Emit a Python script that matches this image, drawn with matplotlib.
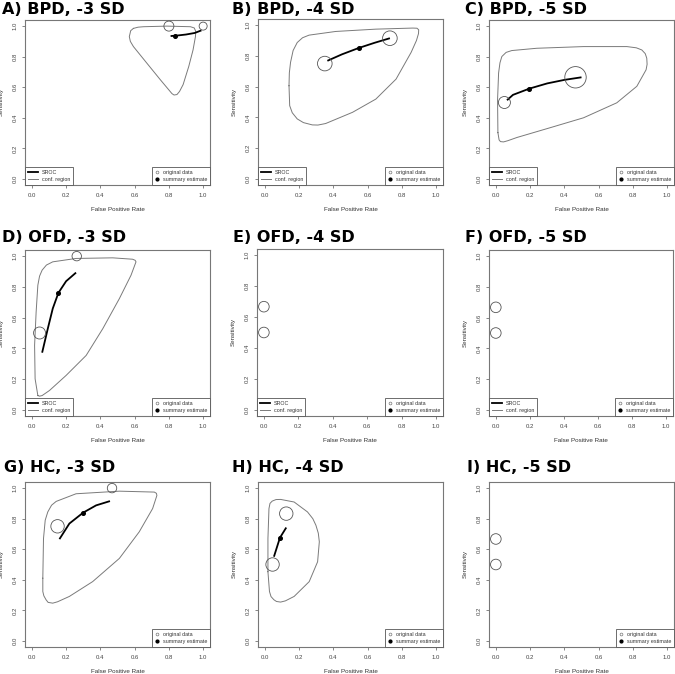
import matplotlib
matplotlib.use("Agg")
import matplotlib.pyplot as plt
from matplotlib.lines import Line2D

titles = ["A) BPD, -3 SD", "B) BPD, -4 SD", "C) BPD, -5 SD",
          "D) OFD, -3 SD", "E) OFD, -4 SD", "F) OFD, -5 SD",
          "G) HC, -3 SD", "H) HC, -4 SD", "I) HC, -5 SD"]

# ---- A) BPD -3 SD
a_fpr = [0.80, 1.00]
a_sens = [1.00, 1.00]
a_weight = [5.0, 4.0]
a_sum = (0.838, 0.937)
a_sroc_x = [0.81, 0.838, 0.90, 0.95, 0.99]
a_sroc_y = [0.935, 0.937, 0.945, 0.955, 0.972]
a_conf_x = [0.593, 0.620, 0.652, 0.789, 0.926, 0.948, 0.957, 0.955, 0.941, 0.916,
            0.883, 0.862, 0.847, 0.830, 0.818, 0.750, 0.671, 0.593, 0.575, 0.569,
            0.577]
a_conf_y = [0.985, 0.993, 0.996, 1.000, 0.996, 0.988, 0.965, 0.931, 0.844, 0.736,
            0.617, 0.572, 0.552, 0.549, 0.558, 0.649, 0.758, 0.866, 0.900, 0.931,
            0.970]

# ---- B) BPD -4 SD
b_fpr = [0.35, 0.73]
b_sens = [0.75, 0.915]
b_weight = [7.3, 7.3]
b_sum = (0.547, 0.851)
b_sroc_x = [0.365, 0.45, 0.547, 0.64, 0.73]
b_sroc_y = [0.768, 0.81, 0.851, 0.885, 0.915]
b_conf_x = [0.141, 0.143, 0.150, 0.165, 0.189, 0.220, 0.258, 0.414, 0.648, 0.863,
            0.888, 0.898, 0.897, 0.885, 0.854, 0.766, 0.648, 0.512, 0.355, 0.310,
            0.277, 0.225, 0.189, 0.160, 0.145]
b_conf_y = [0.606, 0.690, 0.758, 0.835, 0.887, 0.918, 0.935, 0.959, 0.974, 0.981,
            0.980, 0.970, 0.945, 0.900, 0.823, 0.649, 0.519, 0.433, 0.360, 0.350,
            0.351, 0.366, 0.390, 0.430, 0.476]

# ---- C) BPD -5 SD
c_fpr = [0.05, 0.465]
c_sens = [0.50, 0.665]
c_weight = [6.0, 10.7]
c_sum = (0.196, 0.591)
c_sroc_x = [0.065, 0.10, 0.196, 0.30, 0.40, 0.50]
c_sroc_y = [0.515, 0.55, 0.591, 0.625, 0.648, 0.665]
c_conf_x = [0.012, 0.010, 0.016, 0.024, 0.035, 0.060, 0.093, 0.239, 0.512, 0.765,
            0.820, 0.852, 0.872, 0.881, 0.883, 0.877, 0.823, 0.706, 0.512, 0.317,
            0.123, 0.070, 0.045, 0.027, 0.019]
c_conf_y = [0.303, 0.519, 0.693, 0.760, 0.801, 0.828, 0.840, 0.855, 0.866, 0.866,
            0.858, 0.844, 0.820, 0.790, 0.750, 0.714, 0.606, 0.498, 0.400, 0.335,
            0.271, 0.250, 0.242, 0.244, 0.255]

# ---- D) OFD -3 SD
d_fpr = [0.262, 0.045]
d_sens = [1.00, 0.50]
d_weight = [4.7, 6.0]
d_sum = (0.155, 0.761)
d_sroc_x = [0.060, 0.093, 0.122, 0.155, 0.20, 0.258]
d_sroc_y = [0.372, 0.528, 0.659, 0.761, 0.837, 0.893]
d_conf_x = [0.035, 0.019, 0.016, 0.025, 0.035, 0.045, 0.060, 0.085, 0.122, 0.258,
            0.472, 0.588, 0.603, 0.608, 0.579, 0.511, 0.414, 0.317, 0.200, 0.103,
            0.060, 0.045]
d_conf_y = [0.093, 0.202, 0.420, 0.637, 0.811, 0.870, 0.909, 0.942, 0.963, 0.985,
            0.989, 0.980, 0.973, 0.963, 0.876, 0.724, 0.528, 0.354, 0.224, 0.126,
            0.093, 0.089]

# ---- E) OFD -4 SD
e_fpr = [0.0, 0.0]
e_sens = [0.667, 0.50]
e_weight = [5.3, 5.3]

# ---- F) OFD -5 SD
f_fpr = [0.0, 0.0]
f_sens = [0.667, 0.50]
f_weight = [5.3, 5.3]

# ---- G) HC -3 SD
g_fpr = [0.468, 0.15]
g_sens = [1.00, 0.75]
g_weight = [4.7, 6.7]
g_sum = (0.299, 0.839)
g_sroc_x = [0.161, 0.219, 0.299, 0.375, 0.456]
g_sroc_y = [0.666, 0.768, 0.839, 0.887, 0.915]
g_conf_x = [0.064, 0.068, 0.078, 0.093, 0.115, 0.142, 0.258, 0.511, 0.715, 0.727,
            0.730, 0.705, 0.627, 0.511, 0.355, 0.219, 0.150, 0.122, 0.095, 0.083,
            0.070, 0.064]
g_conf_y = [0.410, 0.670, 0.790, 0.844, 0.888, 0.913, 0.963, 0.980, 0.974, 0.966,
            0.952, 0.866, 0.714, 0.540, 0.388, 0.291, 0.256, 0.247, 0.252, 0.269,
            0.295, 0.323]

# ---- H) HC -4 SD
h_fpr = [0.125, 0.045]
h_sens = [0.833, 0.50]
h_weight = [6.7, 6.7]
h_sum = (0.088, 0.675)
h_sroc_x = [0.053, 0.088, 0.125]
h_sroc_y = [0.551, 0.675, 0.742]
h_conf_x = [0.018, 0.018, 0.024, 0.030, 0.043, 0.065, 0.092, 0.171, 0.249, 0.280,
            0.298, 0.312, 0.318, 0.308, 0.259, 0.171, 0.120, 0.092, 0.068, 0.053,
            0.036, 0.027]
h_conf_y = [0.453, 0.670, 0.866, 0.900, 0.915, 0.925, 0.926, 0.909, 0.844, 0.800,
            0.757, 0.705, 0.649, 0.518, 0.388, 0.291, 0.262, 0.254, 0.258, 0.269,
            0.290, 0.323]

# ---- I) HC -5 SD
i_fpr = [0.0, 0.0]
i_sens = [0.667, 0.50]
i_weight = [5.3, 5.3]

panels = [
    (a_fpr, a_sens, a_weight, a_sum, a_sroc_x, a_sroc_y, a_conf_x, a_conf_y, True),
    (b_fpr, b_sens, b_weight, b_sum, b_sroc_x, b_sroc_y, b_conf_x, b_conf_y, True),
    (c_fpr, c_sens, c_weight, c_sum, c_sroc_x, c_sroc_y, c_conf_x, c_conf_y, True),
    (d_fpr, d_sens, d_weight, d_sum, d_sroc_x, d_sroc_y, d_conf_x, d_conf_y, True),
    (e_fpr, e_sens, e_weight, None, None, None, None, None, True),
    (f_fpr, f_sens, f_weight, None, None, None, None, None, True),
    (g_fpr, g_sens, g_weight, g_sum, g_sroc_x, g_sroc_y, g_conf_x, g_conf_y, False),
    (h_fpr, h_sens, h_weight, h_sum, h_sroc_x, h_sroc_y, h_conf_x, h_conf_y, False),
    (i_fpr, i_sens, i_weight, None, None, None, None, None, False),
]

# axes boxes in pixels (left, top, right, bottom) and title anchors
boxes = [(25, 20, 210, 185), (258, 19, 443, 185), (489, 20, 674, 185),
         (25, 250, 210, 416), (257, 249, 443, 416), (489, 250, 673, 416),
         (25, 482, 210, 647), (258, 482, 443, 647), (489, 482, 674, 647)]
title_pos = [(2, 9), (232, 9), (465, 9),
             (2, 237), (233, 237), (465, 237),
             (4, 467), (232, 468), (467, 468)]

W, H = 675, 674
fig = plt.figure(figsize=(W / 100, H / 100), dpi=100)

small = "Liberation Sans"
grey = "#7a7a7a"
ticks = [0.0, 0.2, 0.4, 0.6, 0.8, 1.0]
ticklab = ["0.0", "0.2", "0.4", "0.6", "0.8", "1.0"]

for k, p in enumerate(panels):
    fpr, sens, weight, summ, sx, sy, cx, cy, left_leg = p
    l, t, r, b = boxes[k]
    ax = fig.add_axes([l / W, 1 - b / H, (r - l) / W, (b - t) / H])
    ax.set_xlim(-0.04, 1.04)
    ax.set_ylim(-0.04, 1.04)

    if cx is not None:
        ax.plot(cx + [cx[0]], cy + [cy[0]], color=grey, lw=0.7,
                solid_joinstyle="round")
        ax.plot(sx, sy, color="black", lw=1.3, solid_capstyle="butt")
    ax.scatter(fpr, sens, s=[(1.44 * w) ** 2 for w in weight],
               facecolors="none", edgecolors="#555555", linewidths=0.6, zorder=3)
    if summ is not None:
        ax.plot([summ[0]], [summ[1]], "o", color="black", ms=2.6, zorder=4)

    ax.set_xticks(ticks)
    ax.set_xticklabels(ticklab, family=small)
    ax.set_yticks(ticks)
    ax.set_yticklabels(ticklab, rotation=90, va="center", family=small)
    ax.tick_params(direction="out", length=2.5, width=0.5, colors="#555555",
                   labelsize=4.3, labelcolor="#444444", pad=3)
    for s in ax.spines.values():
        s.set_color("#777777")
        s.set_linewidth(0.8)
    ax.set_xlabel("False Positive Rate", fontsize=4.5, color="#333333",
                  labelpad=7, family=small)
    ax.set_ylabel("Sensitivity", fontsize=4.5, color="#333333",
                  labelpad=6, family=small)

    if left_leg:
        leg1 = ax.legend(handles=[Line2D([], [], color="black", lw=1.3, label="SROC"),
                                  Line2D([], [], color=grey, lw=0.7, label="conf. region")],
                         loc="lower left", borderaxespad=0,
                         prop={"family": small, "size": 3.9},
                         fancybox=False, edgecolor="#555555", framealpha=1,
                         handlelength=1.8, handletextpad=0.8, borderpad=0.55,
                         labelspacing=0.4)
        leg1.get_frame().set_linewidth(0.6)
        for txt in leg1.get_texts():
            txt.set_color("#333333")
        ax.add_artist(leg1)
    leg2 = ax.legend(handles=[Line2D([], [], ls="none", marker="o", mfc="none",
                                     mec="#777777", mew=0.5, ms=2, label="original data"),
                              Line2D([], [], ls="none", marker="o", color="black",
                                     ms=2, label="summary estimate")],
                     loc="lower right", borderaxespad=0,
                     prop={"family": small, "size": 3.9},
                     fancybox=False, edgecolor="#555555", framealpha=1,
                     handlelength=0.8, handletextpad=0.6, borderpad=0.55,
                     labelspacing=0.4)
    leg2.get_frame().set_linewidth(0.6)
    for txt in leg2.get_texts():
        txt.set_color("#333333")

    tx, ty = title_pos[k]
    fig.text(tx / W, 1 - ty / H, titles[k], fontsize=11.5, fontweight="bold",
             ha="left", va="center")

fig.savefig("out.png", dpi=100)
